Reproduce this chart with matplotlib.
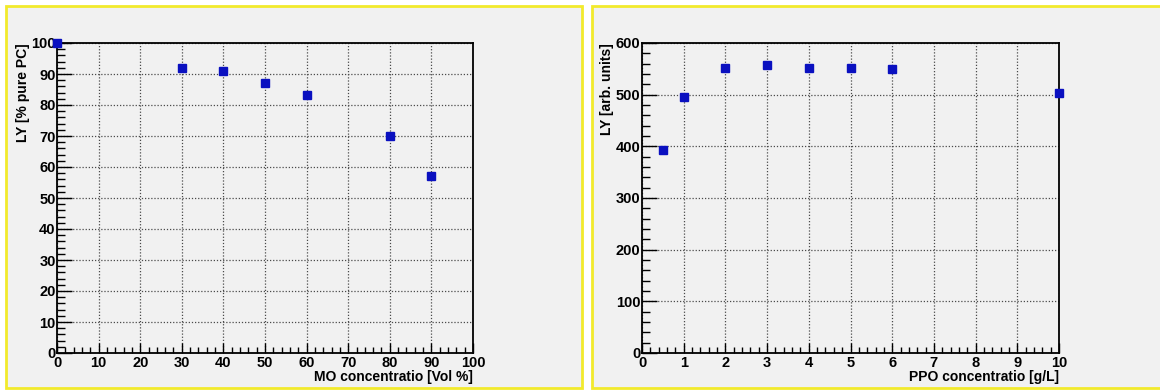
import numpy as np
import matplotlib.pyplot as plt
from matplotlib.patches import Rectangle
from matplotlib.ticker import MultipleLocator

plt.rcParams['font.family'] = ['Liberation Sans', 'DejaVu Sans']
plt.rcParams['font.weight'] = 'bold'

# light yield vs mineral oil fraction
mo_conc = [0, 30, 40, 50, 60, 80, 90]
mo_ly = [100.0, 92.0, 91.1, 87.0, 83.2, 70.1, 57.2]

# light yield vs PPO concentration
ppo_conc = [0.5, 1, 2, 3, 4, 5, 6, 10]
ppo_ly = [392, 495, 552, 558, 552, 552, 550, 504]

fig = plt.figure(figsize=(11.6, 3.9), dpi=100)
fig.patch.set_facecolor('white')

# canvas frames, kept behind the axes
for x0, w in [(6, 576), (592, 580)]:
    fig.patches.append(Rectangle((x0 / 1160, 2 / 390), w / 1160, 382 / 390,
                                 transform=fig.transFigure, facecolor='#f1f1f1',
                                 edgecolor='#f2ea2c', linewidth=2.0, zorder=-5))


def setup(ax, xmax, xmaj, xmin, ymax, ymaj, ymin, xlabel, ylabel):
    ax.set_facecolor('#f1f1f1')
    ax.set_xlim(0, xmax)
    ax.set_ylim(0, ymax)
    ax.xaxis.set_major_locator(MultipleLocator(xmaj))
    ax.xaxis.set_minor_locator(MultipleLocator(xmin))
    ax.yaxis.set_major_locator(MultipleLocator(ymaj))
    ax.yaxis.set_minor_locator(MultipleLocator(ymin))
    ax.tick_params(which='both', direction='in', top=False, right=False,
                   labelsize=10.5, width=1)
    ax.tick_params(axis='y', which='major', length=11, pad=1)
    ax.tick_params(axis='y', which='minor', length=6)
    ax.tick_params(axis='x', which='major', length=7, pad=2)
    ax.tick_params(axis='x', which='minor', length=4)
    for lab in ax.get_xticklabels() + ax.get_yticklabels():
        lab.set_fontweight('bold')
    ax.grid(True, which='major', color='#4a4a4a', linestyle=(0, (1, 1.5)),
            linewidth=0.9)
    ax.set_axisbelow(True)
    for s in ax.spines.values():
        s.set_linewidth(1.3)
    ax.set_xlabel(xlabel, loc='right', fontsize=10, fontweight='bold', labelpad=0)
    ax.set_ylabel(ylabel, loc='top', fontsize=10, fontweight='bold', labelpad=1)


ax1 = fig.add_axes([57 / 1160, 37 / 390, 416 / 1160, 310 / 390])
setup(ax1, 100, 10, 2, 100, 10, 2, 'MO concentratio [Vol %]', 'LY [% pure PC]')
ax1.plot(mo_conc, mo_ly, 's', color='#0a10c0', markersize=6.3, clip_on=False,
         zorder=5)

ax2 = fig.add_axes([642 / 1160, 37 / 390, 417 / 1160, 310 / 390])
setup(ax2, 10, 1, 0.2, 600, 100, 20, 'PPO concentratio [g/L]', 'LY [arb. units]')
ax2.plot(ppo_conc, ppo_ly, 's', color='#0a10c0', markersize=6.3, clip_on=False,
         zorder=5)

fig.savefig('out.png', dpi=100)
